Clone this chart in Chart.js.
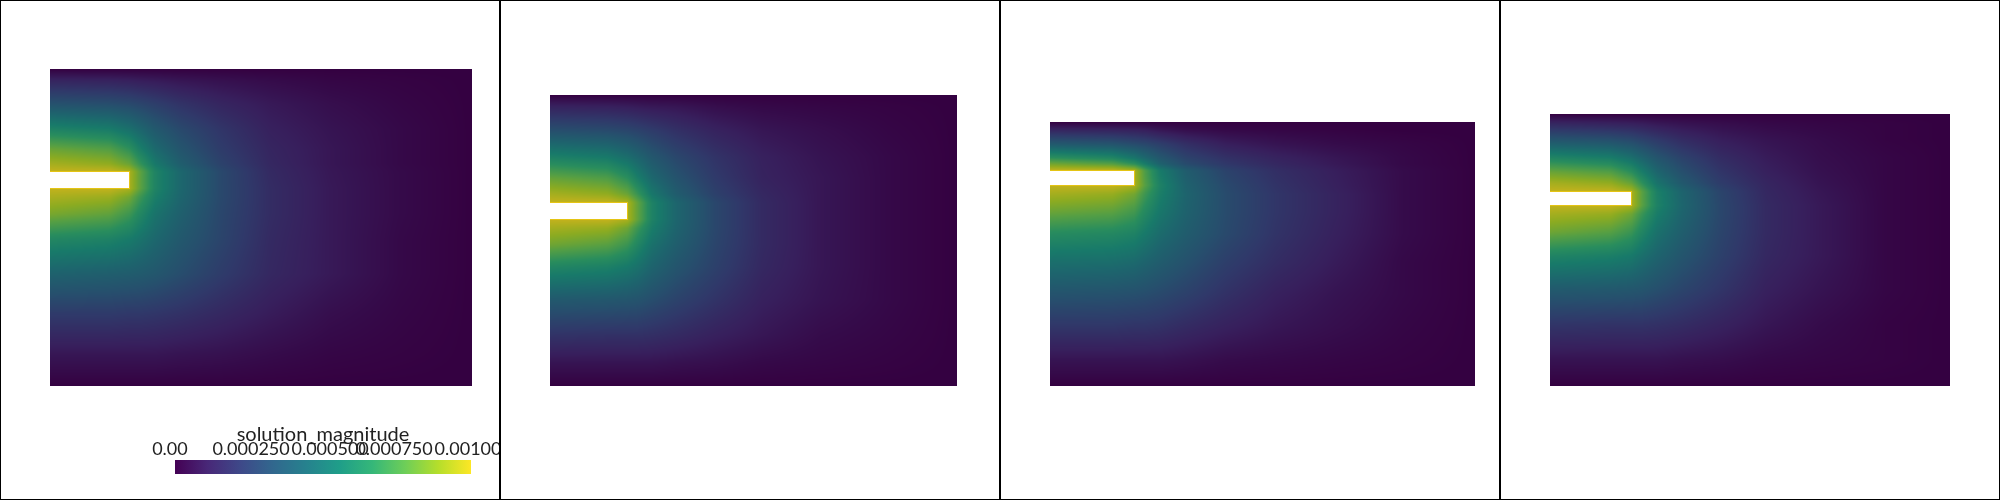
<!DOCTYPE html>
<html>
<head>
<meta charset="utf-8">
<title>solution_magnitude</title>
<script src="https://cdn.jsdelivr.net/npm/chart.js@4"></script>
<style>
  body { margin: 0; background: #fff; }
  #stage { position: relative; width: 2000px; height: 500px; overflow: hidden; }
  #stage canvas { position: absolute; top: 0; }
  .line { position: absolute; background: #000; }
</style>
</head>
<body>
<div id="stage">
  <canvas id="panel1" width="500" height="500" style="left:0"></canvas>
  <canvas id="panel2" width="500" height="500" style="left:500px"></canvas>
  <canvas id="panel3" width="500" height="500" style="left:1000px"></canvas>
  <canvas id="panel4" width="500" height="500" style="left:1500px"></canvas>
  <canvas id="colorbar" width="500" height="500" style="left:0"></canvas>
  <div class="line" style="left:0;top:0;width:2000px;height:1px"></div>
  <div class="line" style="left:0;top:499px;width:2000px;height:1px"></div>
  <div class="line" style="left:0;top:0;width:1px;height:500px"></div>
  <div class="line" style="left:499px;top:0;width:2px;height:500px"></div>
  <div class="line" style="left:999px;top:0;width:2px;height:500px"></div>
  <div class="line" style="left:1499px;top:0;width:2px;height:500px"></div>
  <div class="line" style="left:1999px;top:0;width:1px;height:500px"></div>
</div>
<script>
// legend
const legendTitle = "solution_magnitude";
const legendTicks = ["0.00", "0.000250", "0.000500", "0.000750", "0.00100"];
// where the labels sit along the bar, they are not quite on their values in the picture
const legendTickAt = [-0.000017, 0.000257, 0.000524, 0.00074, 0.00099];
const legendMax = [0.001];

// viridis, 0 to 1
const viridis = ["#440154", "#482878", "#3e4989", "#31688e", "#26828e", "#1f9e89", "#35b779", "#6ece58", "#b5de2b", "#fde725"];

// panel 1: mesh nodes, slit and magnitude (percent of 0.001) at each node
const xNodes1 = [0, 60, 79.5, 90, 105, 130, 170, 220, 280, 350, 422];
const yNodes1 = [0, 12, 35, 60, 80, 95, 102.5, 119.5, 128, 145, 170, 205, 245, 285, 317];
const slitX1 = 79.5;
const slitY1 = [102.5, 119.5];
const field1 = [
  [0, 0, 0, 0, 0, 0, 0, 0, 0, 0, 0],
  [14, 13, 12, 11, 10, 8, 6, 4, 2, 1, 0],
  [34, 32, 30, 28, 25, 20, 14, 9, 5, 2, 0],
  [60, 56, 50, 45, 38, 30, 21, 12, 7, 3, 0],
  [82, 77, 68, 58, 47, 36, 24, 14, 8, 3, 0],
  [94, 90, 82, 70, 55, 41, 27, 15, 8, 3, 0],
  [100, 100, 95, 80, 61, 46, 30, 16, 8.5, 3.5, 0],
  [100, 100, 95, 80, 61, 46, 30, 17, 9, 3.5, 0],
  [95, 92, 84, 72, 58, 45, 30, 17, 9, 3.5, 0],
  [85, 80, 72, 63, 52, 42, 29, 17, 9, 3.5, 0],
  [63, 60, 56, 52, 46, 38, 28, 16, 9, 3, 0],
  [43, 41, 40, 39, 37, 32, 24, 15, 9, 3, 0],
  [23, 23, 22, 22, 21, 19, 15, 10, 5, 2, 0],
  [8, 8, 8, 8, 8, 7, 6, 4, 2, 1, 0],
  [0, 0, 0, 0, 0, 0, 0, 0, 0, 0, 0],
];

// panel 2
const xNodes2 = [0, 58, 77.5, 88, 102, 126, 165, 212, 270, 338, 407];
const yNodes2 = [0, 12, 36, 62, 83, 99, 107.5, 124.5, 133, 150, 172, 205, 240, 268, 291];
const slitX2 = 77.5;
const slitY2 = [107.5, 124.5];
const field2 = [
  [0, 0, 0, 0, 0, 0, 0, 0, 0, 0, 0],
  [13, 12, 11, 10, 9, 8, 5, 3, 2, 1, 0],
  [33, 31, 29, 27, 24, 19, 13, 8, 5, 2, 0],
  [59, 55, 49, 44, 37, 29, 20, 12, 7, 3, 0],
  [81, 76, 67, 57, 46, 35, 23, 13, 8, 3, 0],
  [94, 90, 82, 70, 54, 40, 26, 15, 8, 3, 0],
  [100, 100, 95, 80, 60, 45, 29, 16, 8, 3, 0],
  [100, 100, 95, 80, 60, 45, 29, 16, 8, 3, 0],
  [94, 91, 83, 71, 57, 44, 29, 16, 8, 3, 0],
  [83, 78, 71, 62, 51, 41, 28, 16, 8, 3, 0],
  [62, 59, 55, 51, 44, 36, 26, 15, 8, 3, 0],
  [38, 37, 36, 35, 32, 27, 20, 12, 7, 3, 0],
  [20, 19, 19, 19, 18, 16, 12, 8, 4, 2, 0],
  [7, 7, 7, 7, 7, 6, 5, 3, 2, 1, 0],
  [0, 0, 0, 0, 0, 0, 0, 0, 0, 0, 0],
];

// panel 3
const xNodes3 = [0, 63, 84.5, 95, 110, 136, 176, 226, 285, 352, 425];
const yNodes3 = [0, 8, 22, 36, 42, 48.5, 63.5, 72, 90, 112, 140, 172, 205, 238, 264];
const slitX3 = 84.5;
const slitY3 = [48.5, 63.5];
const field3 = [
  [0, 0, 0, 0, 0, 0, 0, 0, 0, 0, 0],
  [14, 13, 12, 11, 8, 5, 3, 2, 1, 0, 0],
  [38, 35, 31, 29, 25, 18, 11, 7, 4, 2, 0],
  [68, 62, 53, 46, 37, 27, 19, 13, 8, 3, 0],
  [84, 78, 68, 57, 43, 31, 22, 15, 9, 3, 0],
  [100, 100, 95, 76, 56, 40, 27, 18, 11, 4, 0],
  [100, 100, 95, 78, 60, 43, 30, 20, 12, 4, 0],
  [94, 91, 84, 72, 58, 44, 31, 21, 13, 4, 0],
  [82, 79, 73, 64, 54, 43, 31, 21, 13, 4, 0],
  [65, 63, 60, 55, 48, 40, 30, 20, 12, 4, 0],
  [50, 49, 47, 44, 40, 34, 25, 17, 10, 3, 0],
  [35, 34, 33, 32, 30, 26, 19, 12, 7, 3, 0],
  [21, 21, 20, 20, 19, 16, 12, 8, 5, 2, 0],
  [7, 7, 7, 7, 7, 6, 4, 3, 2, 1, 0],
  [0, 0, 0, 0, 0, 0, 0, 0, 0, 0, 0],
];

// panel 4
const xNodes4 = [0, 61, 81.5, 92, 107, 132, 170, 216, 270, 335, 400];
const yNodes4 = [0, 10, 26, 44, 58, 69, 77.5, 91.5, 100, 118, 142, 175, 210, 245, 272];
const slitX4 = 81.5;
const slitY4 = [77.5, 91.5];
const field4 = [
  [0, 0, 0, 0, 0, 0, 0, 0, 0, 0, 0],
  [15, 13, 12, 11, 9, 7, 5, 3, 2, 1, 0],
  [36, 33, 30, 27, 23, 17, 11, 7, 4, 1, 0],
  [62, 57, 50, 44, 36, 27, 17, 10, 5, 2, 0],
  [82, 77, 67, 57, 45, 33, 21, 12, 6, 2, 0],
  [94, 90, 81, 68, 52, 38, 24, 14, 7, 2, 0],
  [100, 100, 95, 79, 59, 44, 28, 15, 8, 2, 0],
  [100, 100, 95, 79, 60, 45, 29, 16, 9, 2, 0],
  [94, 91, 83, 71, 57, 44, 29, 16, 9, 2, 0],
  [83, 78, 71, 62, 51, 41, 28, 16, 9, 2, 0],
  [61, 58, 55, 50, 44, 36, 26, 15, 9, 2, 0],
  [39, 38, 37, 36, 33, 28, 21, 12, 7, 2, 0],
  [21, 20, 20, 20, 19, 17, 13, 8, 4, 1, 0],
  [7, 7, 7, 7, 7, 6, 5, 3, 2, 1, 0],
  [0, 0, 0, 0, 0, 0, 0, 0, 0, 0, 0],
];

// the lit surface comes out darker than the colorbar
const shade = 0.77;

function hexToRgb(h) {
  return [1, 3, 5].map((i) => parseInt(h.slice(i, i + 2), 16));
}
const viridisRgb = viridis.map(hexToRgb);

function colorFor(v) {
  const t = Math.min(Math.max(v, 0), 1) * (viridisRgb.length - 1);
  const i = Math.min(Math.floor(t), viridisRgb.length - 2);
  const f = t - i;
  return viridisRgb[i].map((c, k) => (c + (viridisRgb[i + 1][k] - c) * f) * shade);
}

function findCell(nodes, v) {
  let i = 0;
  while (i < nodes.length - 2 && v > nodes[i + 1]) i++;
  return i;
}

function sampleField(xs, ys, field, x, y) {
  const i = findCell(xs, x);
  const j = findCell(ys, y);
  const u = Math.min(Math.max((x - xs[i]) / (xs[i + 1] - xs[i]), 0), 1);
  const w = Math.min(Math.max((y - ys[j]) / (ys[j + 1] - ys[j]), 0), 1);
  const top = field[j][i] + (field[j][i + 1] - field[j][i]) * u;
  const bot = field[j + 1][i] + (field[j + 1][i + 1] - field[j + 1][i]) * u;
  return (top + (bot - top) * w) / 100;
}

// one small canvas per mesh cell, used as the point style of that cell's point
function cellImage(ctx, xs, ys, field) {
  if (!ctx.chart.chartArea) return "rect";
  const raw = ctx.raw;
  if (raw.img) return raw.img;
  const sx = ctx.chart.scales.x;
  const sy = ctx.chart.scales.y;
  const w = Math.ceil(Math.abs(sx.getPixelForValue(raw.x1) - sx.getPixelForValue(raw.x0))) + 2;
  const h = Math.ceil(Math.abs(sy.getPixelForValue(raw.y1) - sy.getPixelForValue(raw.y0))) + 2;
  if (!isFinite(w) || !isFinite(h)) return "rect";
  const c = document.createElement("canvas");
  c.width = w;
  c.height = h;
  const g = c.getContext("2d");
  const img = g.createImageData(w, h);
  const left = sx.getPixelForValue(raw.x) - w / 2;
  const top = sy.getPixelForValue(raw.y) - h / 2;
  for (let b = 0; b < h; b++) {
    for (let a = 0; a < w; a++) {
      const v = sampleField(xs, ys, field, sx.getValueForPixel(left + a + 0.5), sy.getValueForPixel(top + b + 0.5));
      const rgb = colorFor(v);
      const p = (b * w + a) * 4;
      img.data[p] = rgb[0];
      img.data[p + 1] = rgb[1];
      img.data[p + 2] = rgb[2];
      img.data[p + 3] = 255;
    }
  }
  g.putImageData(img, 0, 0);
  raw.img = c;
  return c;
}

function makePanel(id, xs, ys, field, slitX, slitY, padding) {
  const cells = [];
  for (let j = 0; j < ys.length - 1; j++) {
    for (let i = 0; i < xs.length - 1; i++) {
      cells.push({
        x: (xs[i] + xs[i + 1]) / 2,
        y: (ys[j] + ys[j + 1]) / 2,
        x0: xs[i],
        x1: xs[i + 1],
        y0: ys[j],
        y1: ys[j + 1],
      });
    }
  }
  return new Chart(document.getElementById(id).getContext("2d"), {
    type: "scatter",
    data: {
      datasets: [
        {
          label: "slit",
          data: [
            { x: 0, y: slitY[0] },
            { x: slitX, y: slitY[0] },
            { x: slitX, y: slitY[1] },
            { x: 0, y: slitY[1] },
          ],
          showLine: true,
          fill: "shape",
          backgroundColor: "#ffffff",
          borderColor: "#e4c414",
          borderWidth: 1,
          pointRadius: 0,
          tension: 0,
        },
        {
          label: legendTitle,
          data: cells,
          pointRadius: 1,
          clip: 0,
          pointStyle: (ctx) => cellImage(ctx, xs, ys, field),
        },
      ],
    },
    options: {
      responsive: false,
      animation: false,
      events: [],
      layout: { autoPadding: false, padding },
      plugins: { legend: { display: false }, tooltip: { enabled: false } },
      scales: {
        x: { type: "linear", display: false, min: 0, max: xs[xs.length - 1] },
        y: { type: "linear", display: false, reverse: true, min: 0, max: ys[ys.length - 1] },
      },
    },
  });
}

makePanel("panel1", xNodes1, yNodes1, field1, slitX1, slitY1, { left: 50, right: 28, top: 69, bottom: 114 });
makePanel("panel2", xNodes2, yNodes2, field2, slitX2, slitY2, { left: 50, right: 43, top: 95, bottom: 114 });
makePanel("panel3", xNodes3, yNodes3, field3, slitX3, slitY3, { left: 50, right: 25, top: 122, bottom: 114 });
makePanel("panel4", xNodes4, yNodes4, field4, slitX4, slitY4, { left: 50, right: 50, top: 114, bottom: 114 });

// colorbar
new Chart(document.getElementById("colorbar").getContext("2d"), {
  type: "bar",
  data: {
    labels: [legendTitle],
    datasets: [
      {
        data: legendMax,
        barPercentage: 1,
        categoryPercentage: 1,
        backgroundColor: (ctx) => {
          const area = ctx.chart.chartArea;
          if (!area) return viridis[0];
          const g = ctx.chart.ctx.createLinearGradient(area.left, 0, area.right, 0);
          viridis.forEach((c, i) => g.addColorStop(i / (viridis.length - 1), c));
          return g;
        },
      },
    ],
  },
  options: {
    indexAxis: "y",
    responsive: false,
    animation: false,
    events: [],
    layout: { autoPadding: false, padding: { left: 175, right: 29, top: 423, bottom: 26 } },
    plugins: { legend: { display: false }, tooltip: { enabled: false } },
    scales: {
      x: {
        type: "linear",
        position: "top",
        min: 0,
        max: legendMax[0],
        afterBuildTicks: (axis) => {
          axis.ticks = legendTickAt.map((value) => ({ value }));
        },
        afterFit: (axis) => {
          axis.height = 37;
          axis.paddingLeft = 0;
          axis.paddingRight = 0;
        },
        grid: { display: false, drawTicks: false },
        border: { display: false },
        ticks: {
          autoSkip: false,
          maxRotation: 0,
          padding: 0,
          color: "#222",
          font: { family: "Lato", size: 18 },
          callback: (v, i) => legendTicks[i],
        },
        title: {
          display: true,
          text: legendTitle,
          color: "#222",
          padding: 0,
          font: { family: "Lato", size: 20 },
        },
      },
      y: { display: false },
    },
  },
});
</script>
</body>
</html>
